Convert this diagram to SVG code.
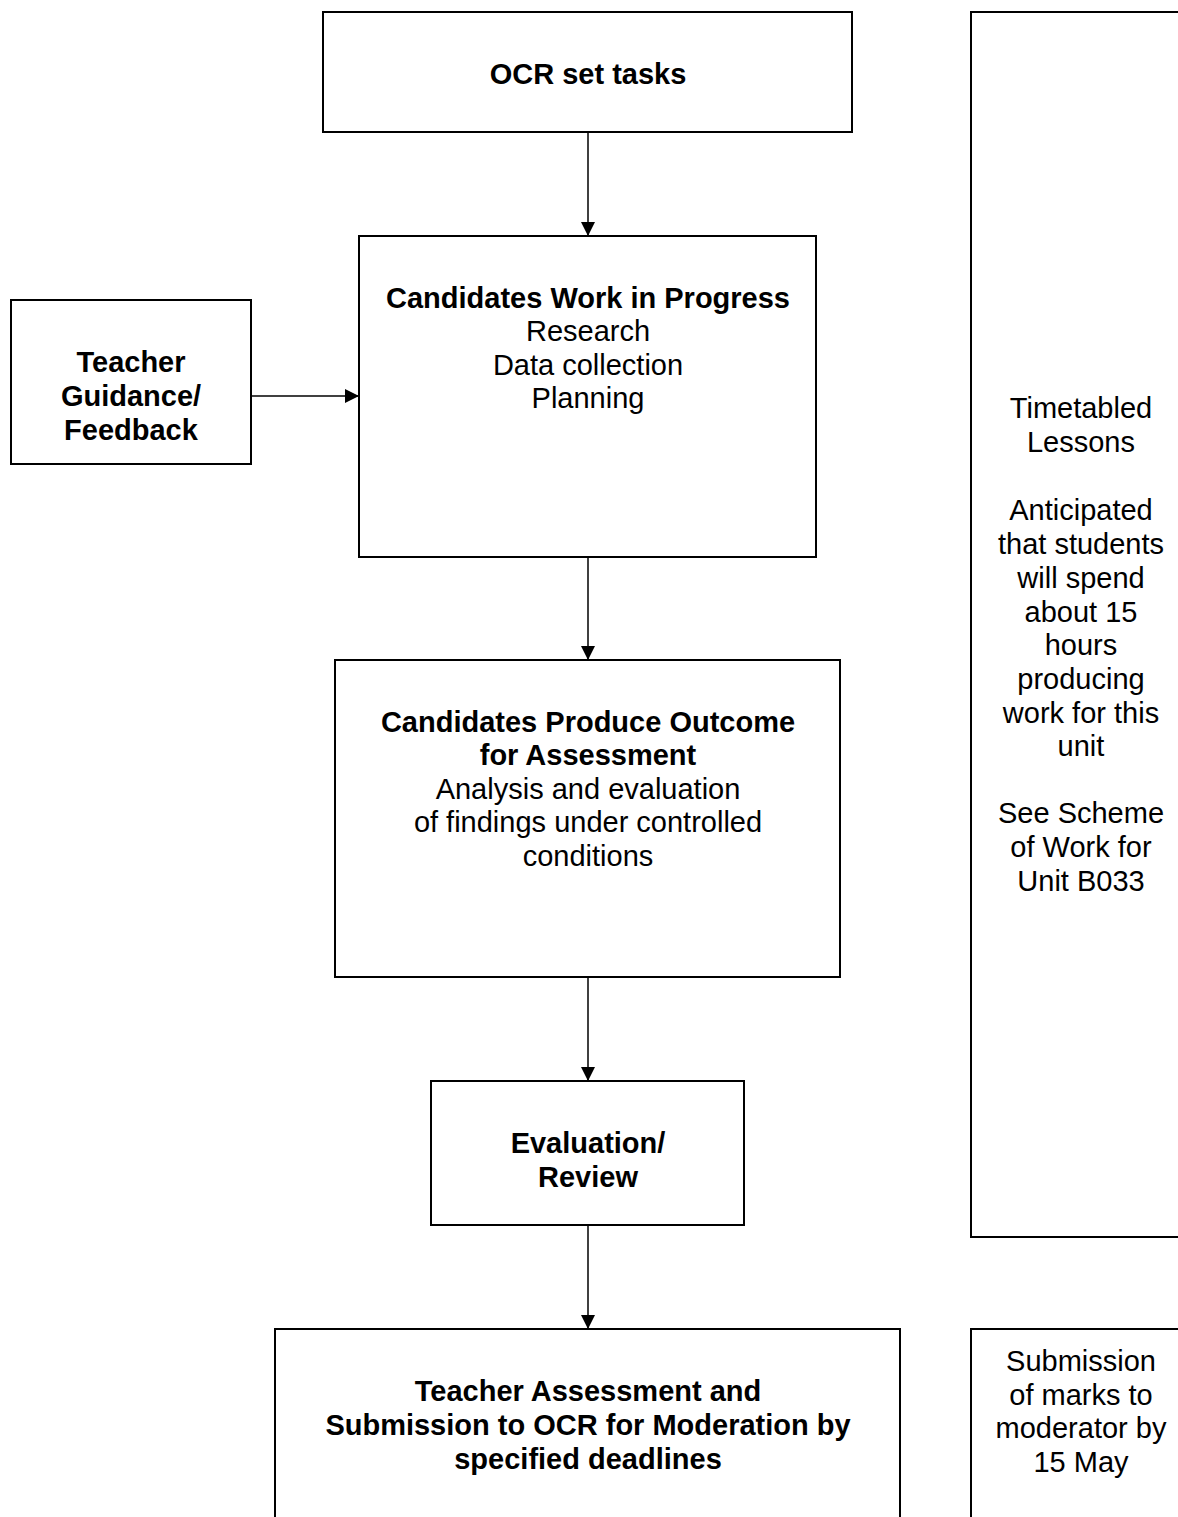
<svg xmlns="http://www.w3.org/2000/svg" width="1178" height="1517" viewBox="0 0 1178 1517">
<style>
.box{fill:#fff;stroke:#000;stroke-width:2}
.conn{stroke:#000;stroke-width:1.5;fill:none}
text{font-family:"Liberation Sans",Arial,sans-serif;font-size:29px;fill:#000;text-anchor:middle}
.b{font-weight:bold}
</style>
<defs>
<marker id="ah" markerWidth="14" markerHeight="14" refX="14" refY="7" orient="auto" markerUnits="userSpaceOnUse">
<path d="M0,0 L14,7 L0,14 Z" fill="#000"/>
</marker>
</defs>
<rect width="1178" height="1517" fill="#fff"/>
<g id="connectors">
<line class="conn" x1="588" y1="132" x2="588" y2="236" marker-end="url(#ah)"/>
<line class="conn" x1="588" y1="557" x2="588" y2="660" marker-end="url(#ah)"/>
<line class="conn" x1="588" y1="977" x2="588" y2="1081" marker-end="url(#ah)"/>
<line class="conn" x1="588" y1="1225" x2="588" y2="1329" marker-end="url(#ah)"/>
<line class="conn" x1="251" y1="396" x2="359" y2="396" marker-end="url(#ah)"/>
</g>
<g id="ocr">
<rect class="box" x="323" y="12" width="529" height="120"/>
<text class="b" x="588" y="84">OCR set tasks</text>
</g>
<g id="wip">
<rect class="box" x="359" y="236" width="457" height="321"/>
<text class="b" x="588" y="308">Candidates Work in Progress</text>
<text x="588" y="341">Research</text>
<text x="588" y="375">Data collection</text>
<text x="588" y="408">Planning</text>
</g>
<g id="guidance">
<rect class="box" x="11" y="300" width="240" height="164"/>
<text class="b" x="131" y="372">Teacher</text>
<text class="b" x="131" y="406">Guidance/</text>
<text class="b" x="131" y="440">Feedback</text>
</g>
<g id="outcome">
<rect class="box" x="335" y="660" width="505" height="317"/>
<text class="b" x="588" y="732">Candidates Produce Outcome</text>
<text class="b" x="588" y="765">for Assessment</text>
<text x="588" y="799">Analysis and evaluation</text>
<text x="588" y="832">of findings under controlled</text>
<text x="588" y="866">conditions</text>
</g>
<g id="review">
<rect class="box" x="431" y="1081" width="313" height="144"/>
<text class="b" x="588" y="1153">Evaluation/</text>
<text class="b" x="588" y="1187">Review</text>
</g>
<g id="assessment">
<rect class="box" x="275" y="1329" width="625" height="200"/>
<text class="b" x="588" y="1401">Teacher Assessment and</text>
<text class="b" x="588" y="1435">Submission to OCR for Moderation by</text>
<text class="b" x="588" y="1469">specified deadlines</text>
</g>
<g id="timetable">
<rect class="box" x="971" y="12" width="220" height="1225"/>
<text x="1081" y="418">Timetabled</text>
<text x="1081" y="452">Lessons</text>
<text x="1081" y="520">Anticipated</text>
<text x="1081" y="554">that students</text>
<text x="1081" y="588">will spend</text>
<text x="1081" y="622">about 15</text>
<text x="1081" y="655">hours</text>
<text x="1081" y="689">producing</text>
<text x="1081" y="723">work for this</text>
<text x="1081" y="756">unit</text>
<text x="1081" y="823">See Scheme</text>
<text x="1081" y="857">of Work for</text>
<text x="1081" y="891">Unit B033</text>
</g>
<g id="submission">
<rect class="box" x="971" y="1329" width="220" height="200"/>
<text x="1081" y="1371">Submission</text>
<text x="1081" y="1405">of marks to</text>
<text x="1081" y="1438">moderator by</text>
<text x="1081" y="1472">15 May</text>
</g>
</svg>
